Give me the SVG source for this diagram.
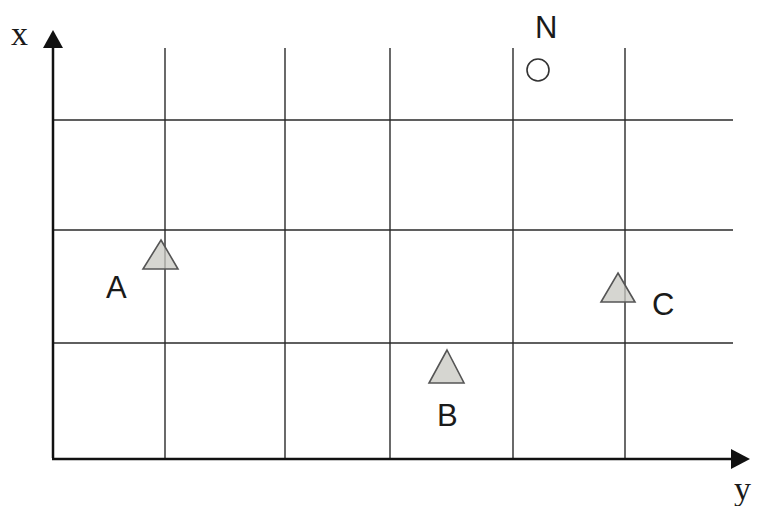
<svg xmlns="http://www.w3.org/2000/svg" width="762" height="506" viewBox="0 0 762 506">
<style>
.grid{stroke:#2a2a2a;stroke-width:1.4;fill:none}
.axis{stroke:#111;stroke-width:2.5;fill:none}
.tri{fill:#c8c8c2;fill-opacity:0.75;stroke:#555;stroke-width:1.6}
.lbl{font-family:"Liberation Sans",Arial,sans-serif;font-size:31px;fill:#1a1a1a}
.ax{font-family:"Liberation Serif","Times New Roman",serif;font-size:34px;fill:#1a1a1a}
</style>
<rect width="762" height="506" fill="#fff"/>
<g id="grid">
<line class="grid" x1="165" y1="48" x2="165" y2="458"/>
<line class="grid" x1="285" y1="48" x2="285" y2="458"/>
<line class="grid" x1="390" y1="48" x2="390" y2="458"/>
<line class="grid" x1="513" y1="48" x2="513" y2="458"/>
<line class="grid" x1="625" y1="48" x2="625" y2="458"/>
<line class="grid" x1="52" y1="120" x2="733" y2="120"/>
<line class="grid" x1="52" y1="230" x2="733" y2="230"/>
<line class="grid" x1="52" y1="343" x2="733" y2="343"/>
</g>
<g id="axes">
<path class="axis" d="M53,458 L53,48"/>
<path d="M53,30 L43,48 L63,48 z" fill="#111"/>
<path class="axis" d="M52,459 L732,459"/>
<path d="M750,459 L731,449 L731,469 z" fill="#111"/>
<text class="ax" x="11" y="45">x</text>
<text class="ax" x="734" y="500">y</text>
</g>
<g id="N">
<circle cx="538" cy="70" r="11" fill="#fff" stroke="#333" stroke-width="1.6"/>
<text class="lbl" x="535" y="38">N</text>
</g>
<g id="A">
<polygon class="tri" points="161,240 178,269 143,269"/>
<text class="lbl" x="106" y="298">A</text>
</g>
<g id="B">
<polygon class="tri" points="447,350 464,383 429,383"/>
<text class="lbl" x="437" y="426">B</text>
</g>
<g id="C">
<polygon class="tri" points="618,273 635,302 601,302"/>
<text class="lbl" x="652" y="315">C</text>
</g>
</svg>
